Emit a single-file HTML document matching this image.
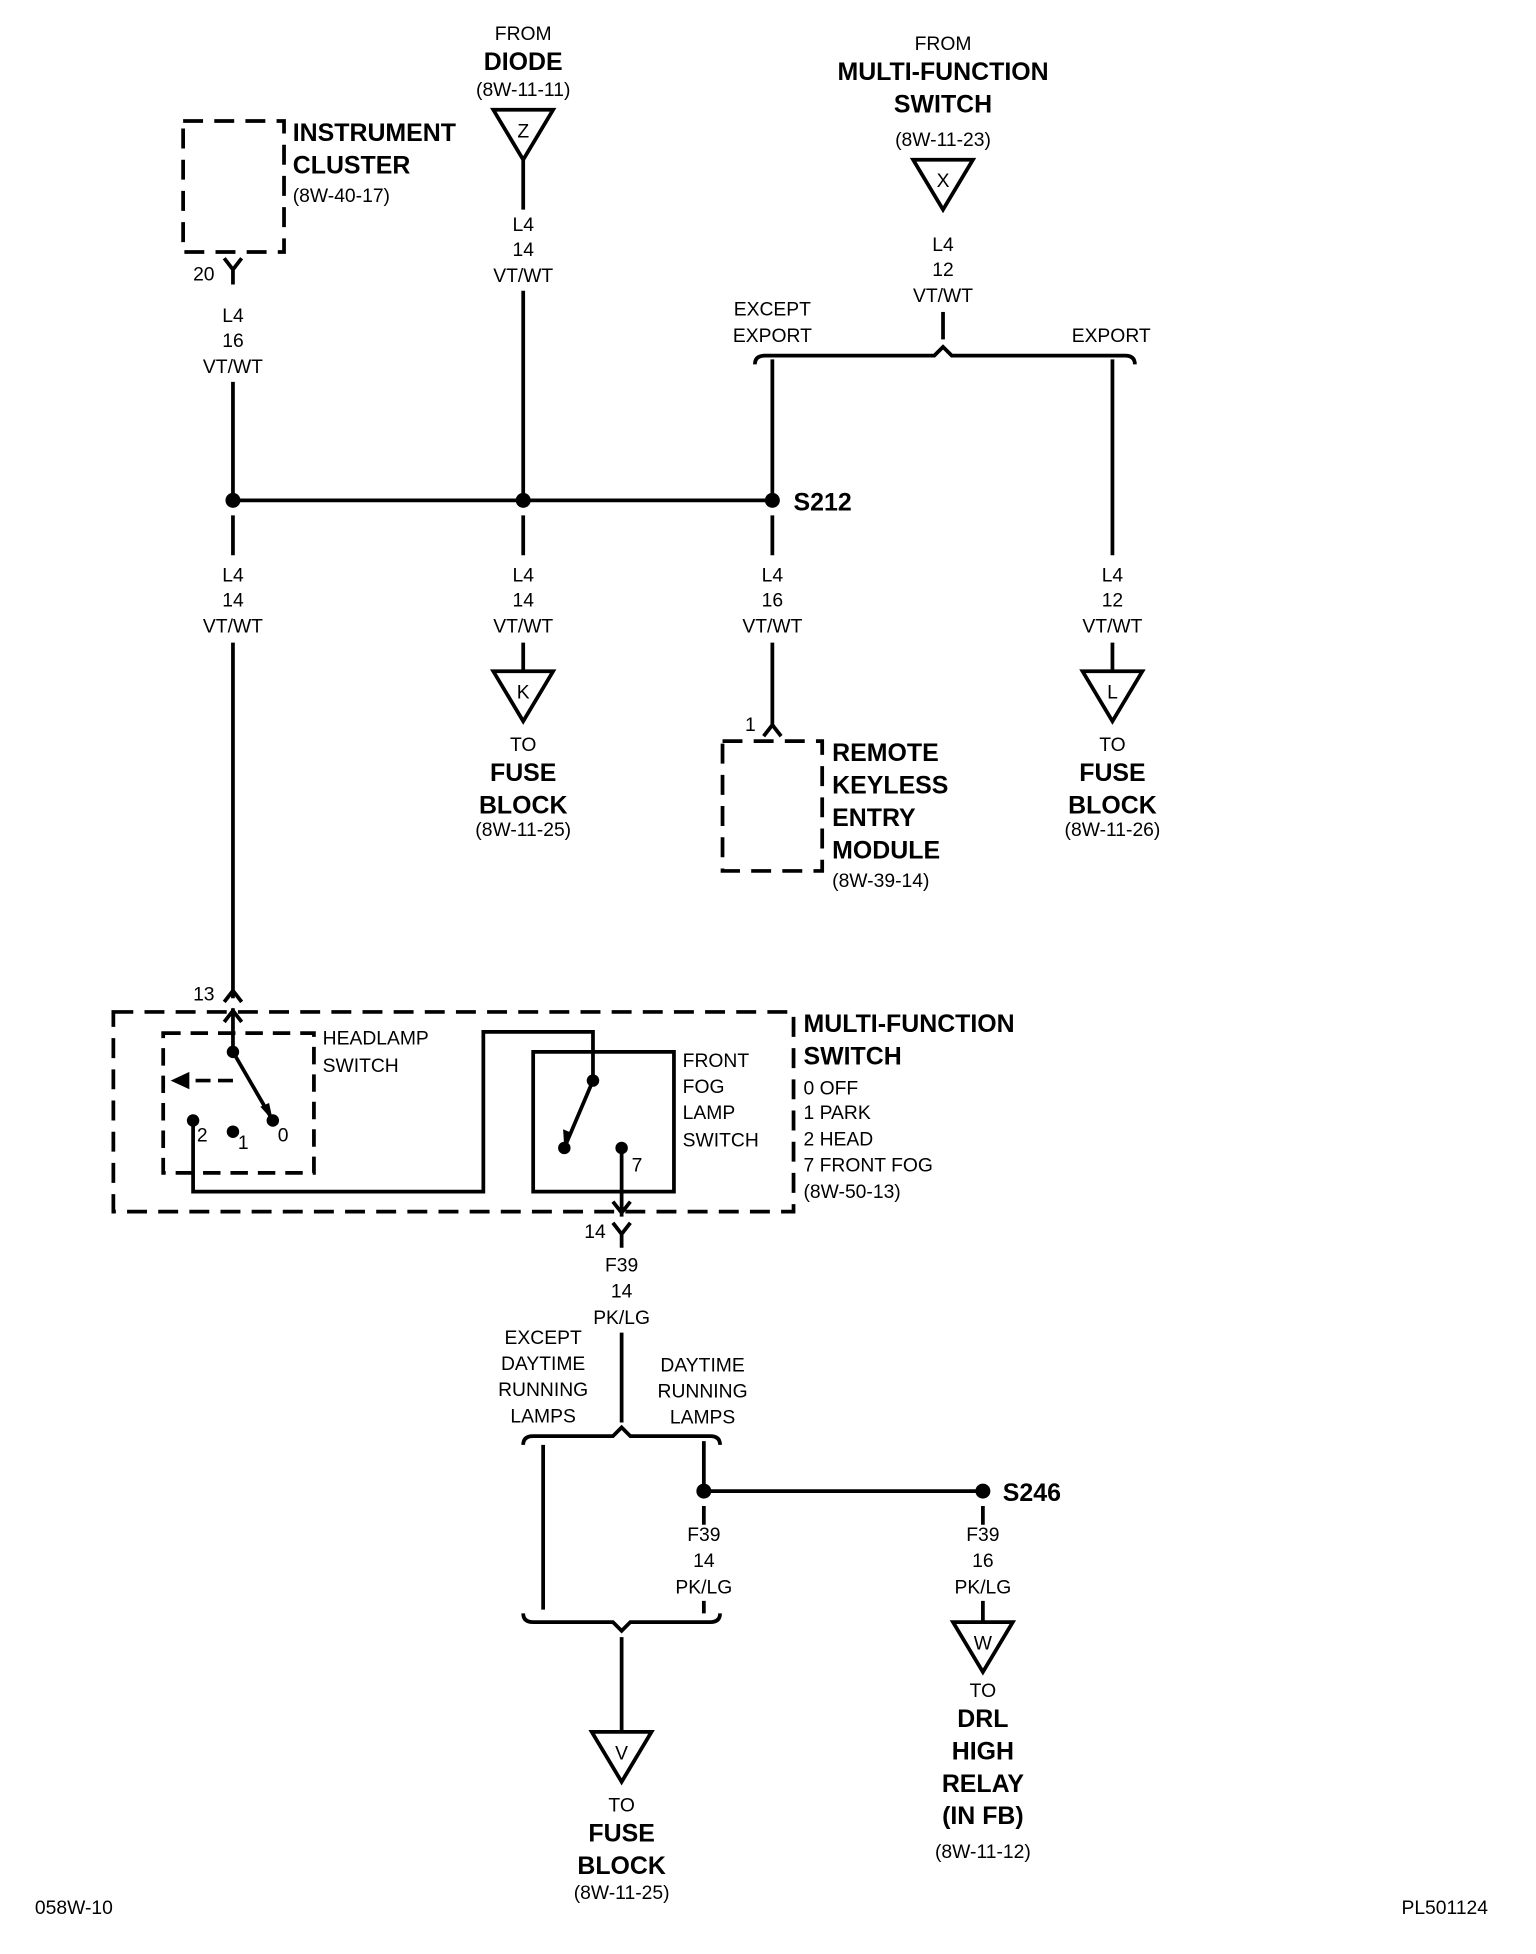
<!DOCTYPE html>
<html><head><meta charset="utf-8"><style>
html,body{margin:0;padding:0;background:#fff}
svg{display:block}
text{font-family:"Liberation Sans Narrow","Liberation Sans",sans-serif;fill:#000}
.s{font-size:15.5px}
.b{font-size:20px;font-weight:bold}
</style></head><body>
<svg width="1536" height="1954" viewBox="0 0 1233 1566" preserveAspectRatio="none" xmlns="http://www.w3.org/2000/svg">
<g fill="none" stroke="#000" stroke-width="3">
<rect x="147" y="97" width="81" height="105" stroke-dasharray="16,9"/>
<path d="M180,207 L187,216 L194,207 M187,216 V228"/>
<path d="M187,306 V401 M420,233 V401 M187,401 H620 M620,288 V401 M893,288 V445"/>
<path d="M420,128 V168"/>
<path d="M757,250 V272"/>
<path d="M606,292 q0,-7 8,-7 H750 l7,-7 l7,7 H903 q8,0 8,7"/>
<path d="M187,413 V445 M420,413 V445 M620,413 V445"/>
<path d="M187,515 V800 M420,515 V538 M620,515 V583 M893,515 V538"/>
<path d="M613,590 L620,581 L627,590"/>
<rect x="580" y="594" width="80" height="104" stroke-dasharray="16,9"/>
<path d="M396,88 H444 L420,128 Z"/>
<path d="M733,128 H781 L757,168 Z"/>
<path d="M396,538 H444 L420,578 Z"/>
<path d="M869,538 H917 L893,578 Z"/>
<path d="M475,1388 H523 L499,1428 Z"/>
<path d="M765,1300 H813 L789,1340 Z"/>
<path d="M180,803 L187,794 L194,803"/>
<rect x="91" y="811" width="546" height="160" stroke-dasharray="16,9"/>
<rect x="131" y="828" width="121" height="112" stroke-dasharray="14,8"/>
<path d="M187,808 V843 M180,819 L187,810 L194,819"/>
<path d="M187,843 L219,898"/>
<path d="M187,866 H148" stroke-dasharray="12,6"/>
<path d="M155,898 V955 H388 V827 H476 V866 L453,920"/>
<rect x="428" y="843" width="113" height="112"/>
<path d="M499,920 V975 M492,963 L499,972 L506,963"/>
<path d="M492,980 L499,989 L506,980 M499,989 V1000"/>
<path d="M499,1068 V1140"/>
<path d="M420,1158 q0,-7 8,-7 H492 l7,-7 l7,7 H570 q8,0 8,7"/>
<path d="M436,1158 V1290 M565,1155 V1195 M565,1195 H789 M565,1207 V1222 M565,1283 V1293 M789,1207 V1222 M789,1283 V1300"/>
<path d="M420,1293 q0,7 8,7 H492 l7,7 l7,-7 H570 q8,0 8,-7"/>
<path d="M499,1312 V1388"/>
</g>
<g fill="#000">
<circle cx="187" cy="401" r="6"/><circle cx="420" cy="401" r="6"/><circle cx="620" cy="401" r="6"/>
<circle cx="187" cy="843" r="5"/><circle cx="219" cy="898" r="5"/><circle cx="155" cy="898" r="5"/><circle cx="187" cy="907" r="5"/>
<circle cx="476" cy="866" r="5"/><circle cx="453" cy="920" r="5"/><circle cx="499" cy="920" r="5"/>
<circle cx="565" cy="1195" r="6"/><circle cx="789" cy="1195" r="6"/>
<path d="M137,866 L152,859 L152,873 Z"/>
<path d="M219,898 L209,887 L216,884 Z"/>
<path d="M453,920 L452,905 L459,908 Z"/>
</g>
<g class="s" text-anchor="middle">
<text x="420" y="32">FROM</text><text x="420" y="77">(8W-11-11)</text><text x="420" y="110">Z</text>
<text x="757" y="40">FROM</text><text x="757" y="117">(8W-11-23)</text><text x="757" y="150">X</text>
<text x="187" y="258">L4</text><text x="187" y="278">16</text><text x="187" y="299">VT/WT</text>
<text x="420" y="185">L4</text><text x="420" y="205">14</text><text x="420" y="226">VT/WT</text>
<text x="757" y="201">L4</text><text x="757" y="221">12</text><text x="757" y="242">VT/WT</text>
<text x="620" y="253">EXCEPT</text><text x="620" y="274">EXPORT</text><text x="892" y="274">EXPORT</text>
<text x="187" y="466">L4</text><text x="187" y="486">14</text><text x="187" y="507">VT/WT</text>
<text x="420" y="466">L4</text><text x="420" y="486">14</text><text x="420" y="507">VT/WT</text>
<text x="620" y="466">L4</text><text x="620" y="486">16</text><text x="620" y="507">VT/WT</text>
<text x="893" y="466">L4</text><text x="893" y="486">12</text><text x="893" y="507">VT/WT</text>
<text x="420" y="560">K</text><text x="893" y="560">L</text>
<text x="420" y="602">TO</text><text x="420" y="670">(8W-11-25)</text>
<text x="893" y="602">TO</text><text x="893" y="670">(8W-11-26)</text>
<text x="499" y="1019">F39</text><text x="499" y="1040">14</text><text x="499" y="1061">PK/LG</text>
<text x="436" y="1077">EXCEPT</text><text x="436" y="1098">DAYTIME</text><text x="436" y="1119">RUNNING</text><text x="436" y="1140">LAMPS</text>
<text x="564" y="1099">DAYTIME</text><text x="564" y="1120">RUNNING</text><text x="564" y="1141">LAMPS</text>
<text x="565" y="1235">F39</text><text x="565" y="1256">14</text><text x="565" y="1277">PK/LG</text>
<text x="789" y="1235">F39</text><text x="789" y="1256">16</text><text x="789" y="1277">PK/LG</text>
<text x="789" y="1322">W</text><text x="499" y="1410">V</text>
<text x="499" y="1452">TO</text><text x="499" y="1522">(8W-11-25)</text>
<text x="789" y="1360">TO</text><text x="789" y="1489">(8W-11-12)</text>
</g>
<g class="s">
<text x="235" y="162">(8W-40-17)</text>
<text x="155" y="225">20</text>
<text x="598" y="586">1</text>
<text x="668" y="711">(8W-39-14)</text>
<text x="155" y="802">13</text>
<text x="259" y="837">HEADLAMP</text><text x="259" y="859">SWITCH</text>
<text x="158" y="915">2</text><text x="191" y="921">1</text><text x="223" y="915">0</text>
<text x="548" y="855">FRONT</text><text x="548" y="876">FOG</text><text x="548" y="897">LAMP</text><text x="548" y="919">SWITCH</text>
<text x="507" y="939">7</text>
<text x="645" y="877">0 OFF</text><text x="645" y="897">1 PARK</text><text x="645" y="918">2 HEAD</text><text x="645" y="939">7 FRONT FOG</text><text x="645" y="960">(8W-50-13)</text>
<text x="469" y="992">14</text>
<text x="28" y="1534">058W-10</text><text x="1125" y="1534">PL501124</text>
</g>
<g class="b" text-anchor="middle">
<text x="420" y="56">DIODE</text>
<text x="757" y="64">MULTI-FUNCTION</text><text x="757" y="90">SWITCH</text>
<text x="420" y="626">FUSE</text><text x="420" y="652">BLOCK</text>
<text x="893" y="626">FUSE</text><text x="893" y="652">BLOCK</text>
<text x="499" y="1476">FUSE</text><text x="499" y="1502">BLOCK</text>
<text x="789" y="1384">DRL</text><text x="789" y="1410">HIGH</text><text x="789" y="1436">RELAY</text><text x="789" y="1462">(IN FB)</text>
</g>
<g class="b">
<text x="235" y="113">INSTRUMENT</text><text x="235" y="139">CLUSTER</text>
<text x="637" y="409">S212</text>
<text x="668" y="610">REMOTE</text><text x="668" y="636">KEYLESS</text><text x="668" y="662">ENTRY</text><text x="668" y="688">MODULE</text>
<text x="645" y="827">MULTI-FUNCTION</text><text x="645" y="853">SWITCH</text>
<text x="805" y="1203">S246</text>
</g>
</svg>
</body></html>
